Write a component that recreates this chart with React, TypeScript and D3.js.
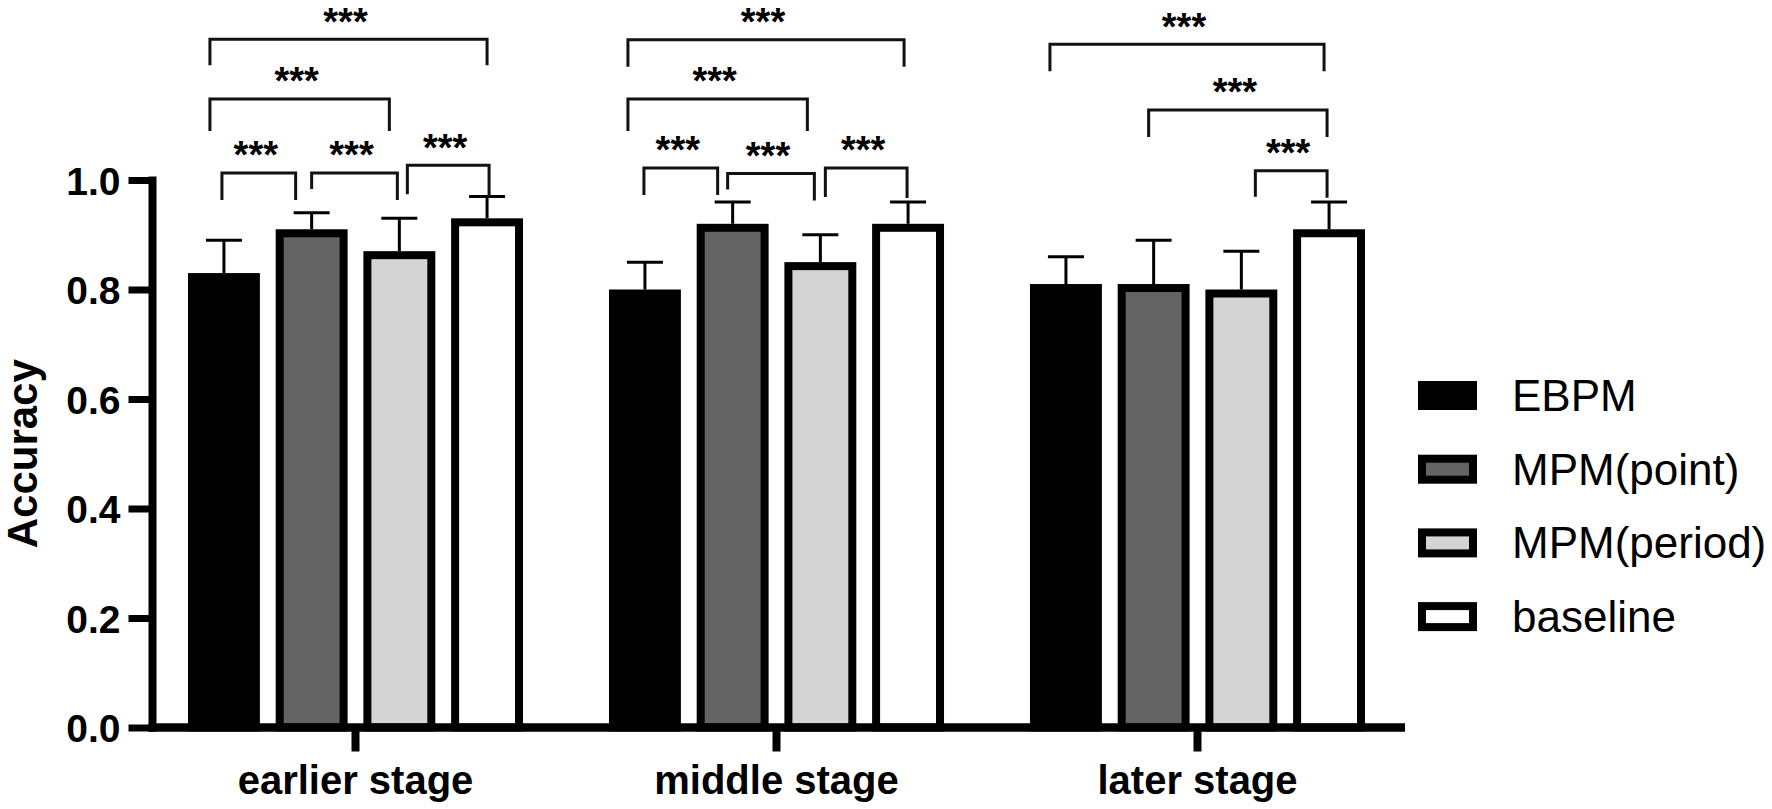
import React, { useRef, useEffect } from 'react';
import * as d3 from 'd3';

const stages = ['earlier stage', 'middle stage', 'later stage'];
const methods = ['EBPM', 'MPM(point)', 'MPM(period)', 'baseline'];
const fills = ['#000000', '#646464', '#d4d4d4', '#ffffff'];

// mean accuracy per stage
const ebpm = [0.83, 0.80, 0.81];
const mpmPoint = [0.91, 0.92, 0.81];
const mpmPeriod = [0.87, 0.85, 0.80];
const baseline = [0.93, 0.92, 0.91];

// top of the error bar per stage
const ebpmErr = [0.89, 0.85, 0.86];
const mpmPointErr = [0.94, 0.96, 0.89];
const mpmPeriodErr = [0.93, 0.90, 0.87];
const baselineErr = [0.97, 0.96, 0.96];

const yTicks = [0, 0.2, 0.4, 0.6, 0.8, 1.0];

// significance brackets: stage, left bar, right bar, height on the accuracy scale
const brackets: { stage: number, a: number, b: number, level: number, label: string }[] = [
  { stage: 0, a: 0, b: 1, level: 1.013, label: '***' },
  { stage: 0, a: 1, b: 2, level: 1.013, label: '***' },
  { stage: 0, a: 2, b: 3, level: 1.027, label: '***' },
  { stage: 0, a: 0, b: 2, level: 1.148, label: '***' },
  { stage: 0, a: 0, b: 3, level: 1.257, label: '***' },
  { stage: 1, a: 0, b: 1, level: 1.022, label: '***' },
  { stage: 1, a: 1, b: 2, level: 1.012, label: '***' },
  { stage: 1, a: 2, b: 3, level: 1.022, label: '***' },
  { stage: 1, a: 0, b: 2, level: 1.148, label: '***' },
  { stage: 1, a: 0, b: 3, level: 1.256, label: '***' },
  { stage: 2, a: 0, b: 3, level: 1.248, label: '***' },
  { stage: 2, a: 1, b: 3, level: 1.128, label: '***' },
  { stage: 2, a: 2, b: 3, level: 1.017, label: '***' },
];

// pixel nudges for each bracket: [left dx, right dx, left tip, right tip]
const bracketNudge = [
  [-2, -16, 27, 27], [0, -2, 16, 27], [8, 2, 29, 32], [-14, -10, 32, 32], [-14, 0, 26, 26],
  [-1, -15, 27, 27], [-5, -6, 16, 27], [5, -1, 29, 30], [-17, -13, 32, 32], [-17, -4, 27, 27],
  [-16, -5, 27, 27], [-5, -2, 27, 27], [14, -2, 26, 27],
];

const FONT = '"Liberation Sans", Arial, Helvetica, sans-serif';

const BarChart: React.FC = () => {
  const ref = useRef<SVGSVGElement | null>(null);

  useEffect(() => {
    if (!ref.current) return;
    const svg = d3.select(ref.current);
    const width = 1772;
    const height = 809;
    svg.attr('width', width).attr('height', height);
    svg.selectAll('*').remove();

    const means = [ebpm, mpmPoint, mpmPeriod, baseline];
    const errs = [ebpmErr, mpmPointErr, mpmPeriodErr, baselineErr];

    const x0 = d3.scaleBand().domain(stages).range([145, 1408]).padding(0);
    const x1 = d3.scaleBand().domain(methods).range([0, x0.bandwidth()])
      .paddingInner(0.18).paddingOuter(0.49);
    const y = d3.scaleLinear().domain([0, 1]).range([727.5, 180]);

    const sw = 8;
    const bw = x1.bandwidth();
    const cx = (s: number, m: number) => (x0(stages[s]) as number) + (x1(methods[m]) as number) + bw / 2;

    // bars
    const groups = svg.append('g');
    stages.forEach((st, s) => {
      methods.forEach((m, i) => {
        const v = means[i][s];
        const left = (x0(st) as number) + (x1(m) as number);
        groups.append('rect')
          .attr('x', left + sw / 2)
          .attr('y', y(v) + sw / 2)
          .attr('width', bw - sw)
          .attr('height', y(0) - y(v) - sw / 2)
          .attr('fill', fills[i])
          .attr('stroke', '#000')
          .attr('stroke-width', sw);

        // error bar
        const c = cx(s, i);
        groups.append('line')
          .attr('x1', c).attr('x2', c)
          .attr('y1', y(v)).attr('y2', y(errs[i][s]))
          .attr('stroke', '#000').attr('stroke-width', 3);
        groups.append('line')
          .attr('x1', c - 18).attr('x2', c + 18)
          .attr('y1', y(errs[i][s])).attr('y2', y(errs[i][s]))
          .attr('stroke', '#000').attr('stroke-width', 3);
      });
    });

    // y axis
    const yAxis = d3.axisLeft(y).tickValues(yTicks).tickSize(24).tickPadding(8)
      .tickFormat(d3.format('.1f'));
    const gy = svg.append('g').attr('transform', 'translate(152.5,0)').call(yAxis);
    gy.select('.domain').remove();
    gy.selectAll('.tick line').attr('stroke', '#000').attr('stroke-width', 7);
    gy.selectAll('.tick text')
      .attr('font-family', FONT).attr('font-size', 39).attr('font-weight', 'bold')
      .attr('fill', '#000').attr('dy', '0.36em');
    svg.append('line')
      .attr('x1', 152.5).attr('x2', 152.5).attr('y1', 176.5).attr('y2', 731.5)
      .attr('stroke', '#000').attr('stroke-width', 8);

    // x axis
    const xAxis = d3.axisBottom(x0).tickSize(24).tickPadding(0);
    const gx = svg.append('g').attr('transform', 'translate(0,727.5)').call(xAxis);
    gx.select('.domain').remove();
    gx.selectAll('.tick line').attr('stroke', '#000').attr('stroke-width', 8);
    gx.selectAll('.tick text')
      .attr('font-family', FONT).attr('font-size', 40).attr('font-weight', 'bold')
      .attr('fill', '#000').attr('y', 66).attr('dy', 0);
    svg.append('line')
      .attr('x1', 148.5).attr('x2', 1405).attr('y1', 727.5).attr('y2', 727.5)
      .attr('stroke', '#000').attr('stroke-width', 8.5);

    svg.append('text')
      .attr('transform', `translate(37,${(y(0) + y(1)) / 2}) rotate(-90)`)
      .attr('text-anchor', 'middle')
      .attr('font-family', FONT).attr('font-size', 42).attr('font-weight', 'bold')
      .text('Accuracy');

    // significance brackets
    const gb = svg.append('g');
    brackets.forEach((b, k) => {
      const [dl, dr, tl, tr] = bracketNudge[k];
      const xa = cx(b.stage, b.a) + dl;
      const xb = cx(b.stage, b.b) + dr;
      const yb = y(b.level);
      gb.append('path')
        .attr('d', `M${xa},${yb + tl}V${yb}H${xb}V${yb + tr}`)
        .attr('fill', 'none').attr('stroke', '#111').attr('stroke-width', 3);
      gb.append('text')
        .attr('x', (xa + xb) / 2 - 3)
        .attr('y', yb - 4.5)
        .attr('text-anchor', 'middle')
        .attr('font-family', FONT).attr('font-size', 38).attr('font-weight', 'bold')
        .text(b.label);
    });

    // legend
    const lg = svg.append('g');
    methods.forEach((m, i) => {
      const cy = 395.5 + i * 73.7;
      lg.append('rect')
        .attr('x', 1418 + sw / 2).attr('y', cy - 14.5 + sw / 2)
        .attr('width', 59 - sw).attr('height', 29 - sw)
        .attr('fill', fills[i]).attr('stroke', '#000').attr('stroke-width', sw);
      lg.append('text')
        .attr('x', 1512).attr('y', cy + 15.5)
        .attr('font-family', FONT).attr('font-size', 44)
        .text(m);
    });
  }, []);

  return <svg ref={ref} style={{ position: 'absolute', left: 0, top: 0, display: 'block' }}></svg>;
};

export default function App() {
  return <BarChart />;
}
